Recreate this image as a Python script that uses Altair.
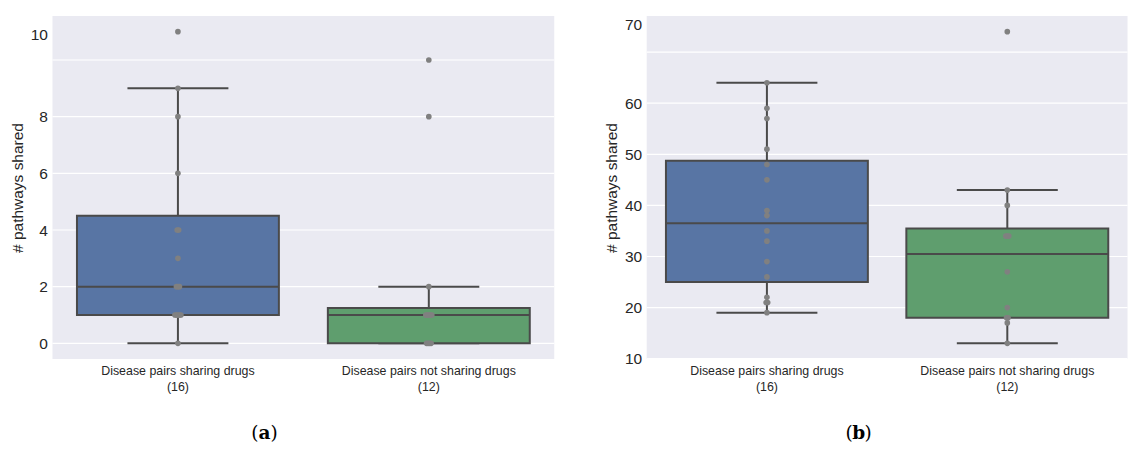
import altair as alt
import pandas as pd

categories = ["Disease pairs sharing drugs", "Disease pairs not sharing drugs"]

# panel (a)
a_sharing = [0, 1, 1, 1, 1, 1, 2, 2, 2, 3, 4, 4, 6, 8, 9, 11]
a_not = [0, 0, 0, 0, 1, 1, 1, 1, 1, 2, 8, 10]
a_ticks = [0, 2, 4, 6, 8, 10]
a_top_label_pos = 10.9
a_domain = [-0.55, 11.55]

# panel (b)
b_sharing = [19, 21, 21, 22, 26, 29, 33, 35, 38, 39, 45, 48, 51, 57, 59, 64]
b_not = [13, 17, 18, 18, 20, 27, 34, 34, 34, 40, 43, 74]
b_ticks = [10, 20, 30, 40, 50, 60, 70]
b_top_label_pos = 75.4
b_domain = [9.95, 77.05]

box_colors = ["#5875A4", "#5F9E6E"]
line_color = "#4a4a4a"
point_color = "#808080"
y_title = "# pathways shared"


def panel(vals_sharing, vals_not, ticks, top_pos, domain, letter, width):
    df = pd.DataFrame({
        "group": [categories[0]] * len(vals_sharing) + [categories[1]] * len(vals_not),
        "value": vals_sharing + vals_not,
    })
    counts = [len(vals_sharing), len(vals_not)]
    label_expr = " : ".join(
        f"datum.label == '{c}' ? ['{c}', '({n})']" for c, n in zip(categories, counts)
    ) + " : datum.label"
    step = width / len(categories)

    x = alt.X(
        "group:N", sort=categories,
        scale=alt.Scale(domain=categories, paddingInner=0, paddingOuter=0),
        axis=alt.Axis(title=None, labelAngle=0, ticks=False, domain=False,
                      labelExpr=label_expr, labelFontSize=12.4, labelPadding=6,
                      labelLineHeight=16, labelColor="#262626", grid=False),
    )
    y_scale = alt.Scale(domain=domain, nice=False, zero=False)
    y_label_expr = (f"datum.value == {ticks[-1]} ? '' : datum.value == {top_pos} ? "
                    f"'{ticks[-1]}' : datum.label")
    y = alt.Y(
        "value:Q", scale=y_scale,
        axis=alt.Axis(title=y_title, values=ticks + [top_pos], labelExpr=y_label_expr,
                      ticks=False, domain=False, grid=False, labelFontSize=15.5, labelPadding=5,
                      labelColor="#262626", titleFontSize=15.5, titleFontWeight="normal",
                      titleColor="#262626", titlePadding=5),
    )

    grid = alt.Chart(pd.DataFrame({"value": ticks})).mark_rule(
        color="white", strokeWidth=1.2
    ).encode(y=y)

    box = alt.Chart(df).mark_boxplot(
        size=202, extent=1.5, opacity=1, outliers=False,
        box={"stroke": line_color, "strokeWidth": 2},
        median={"color": line_color, "thickness": 2},
        rule={"color": line_color, "strokeWidth": 2},
        ticks={"color": line_color, "size": 101, "thickness": 2},
    ).encode(
        x=x, y=y,
        color=alt.Color("group:N", scale=alt.Scale(domain=categories, range=box_colors), legend=None),
    )

    pts = alt.Chart(df).transform_window(
        idx="row_number()", groupby=["group", "value"]
    ).transform_joinaggregate(
        cnt="count()", groupby=["group", "value"]
    ).transform_calculate(
        jit=f"(datum.idx - (datum.cnt + 1) / 2) * 1.5 + {step / 2}"
    ).mark_circle(size=32, color=point_color, opacity=1).encode(
        x=x, y=y, xOffset=alt.XOffset("jit:Q", scale=None)
    )

    cap_data = alt.Data(values=[{}])
    cx = 212
    cy = 423
    font = "DejaVu Serif"
    fs = 18.5
    lp = alt.Chart(cap_data).mark_text(text="(", font=font, fontSize=fs,
                                       align="right", baseline="alphabetic", color="black"
                                       ).encode(x=alt.value(cx - 6), y=alt.value(cy))
    lt = alt.Chart(cap_data).mark_text(text=letter, font=font, fontSize=fs,
                                       fontWeight="bold", align="center", baseline="alphabetic",
                                       color="black").encode(x=alt.value(cx), y=alt.value(cy))
    rp = alt.Chart(cap_data).mark_text(text=")", font=font, fontSize=fs,
                                       align="left", baseline="alphabetic", color="black"
                                       ).encode(x=alt.value(cx + 6), y=alt.value(cy))

    return alt.layer(grid, box, pts, lp, lt, rp).properties(width=width, height=343)


left = panel(a_sharing, a_not, a_ticks, a_top_label_pos, a_domain, "a", 502)
right = panel(b_sharing, b_not, b_ticks, b_top_label_pos, b_domain, "b", 481)

chart = alt.hconcat(left, right, spacing=48.5).properties(
    padding={"left": 1.5, "top": 8, "right": 0, "bottom": 0},
    background="white",
).configure_view(
    fill="#EAEAF2", stroke=None
).configure_axis(
    labelFont="Liberation Sans", titleFont="Liberation Sans"
)

chart.save("out.html", embed_options={"renderer": "svg", "actions": False})
